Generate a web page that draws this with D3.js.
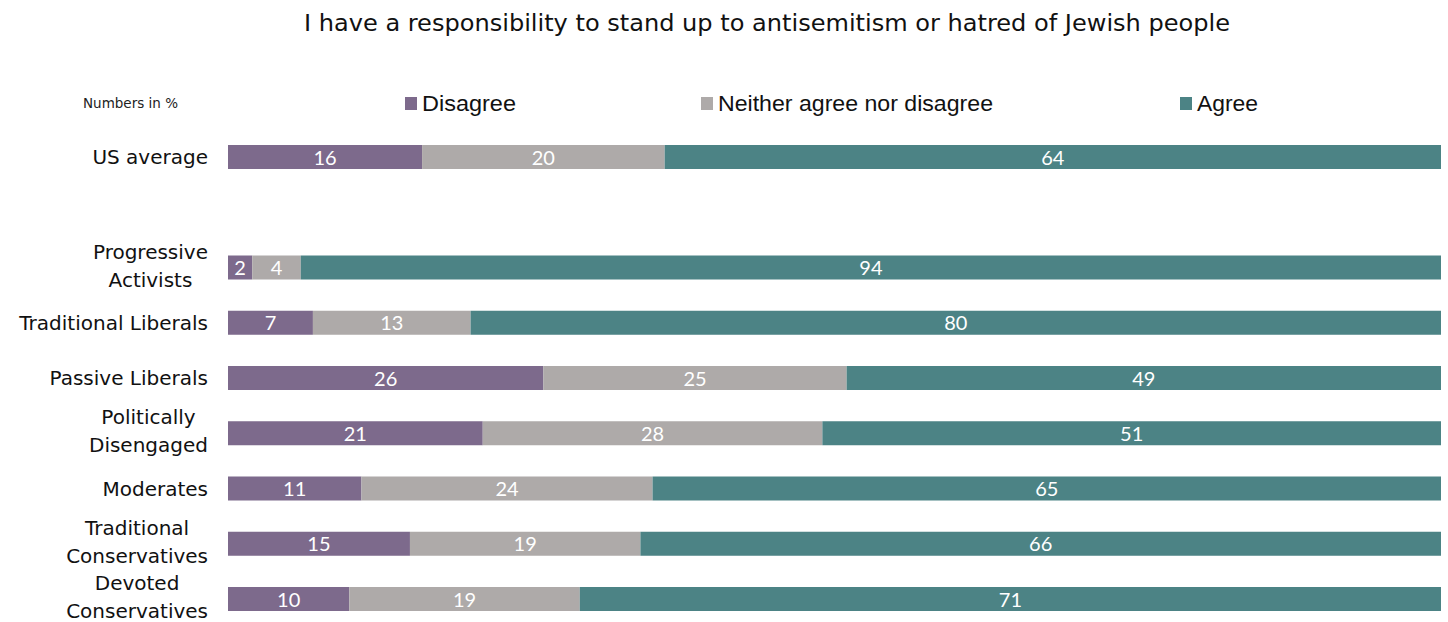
<!DOCTYPE html>
<html><head><meta charset="utf-8">
<script src="https://cdn.jsdelivr.net/npm/d3@7"></script>
<style>body{margin:0;background:#fff}svg{display:block}</style>
</head><body><svg id="c" width="1448" height="622"></svg>
<script>
const title = "I have a responsibility to stand up to antisemitism or hatred of Jewish people";
const categories = ["US average", "Progressive\nActivists", "Traditional Liberals", "Passive Liberals", "Politically\nDisengaged", "Moderates", "Traditional\nConservatives", "Devoted\nConservatives"];
const seriesNames = ["Disagree", "Neither agree nor disagree", "Agree"];
const disagree = [16, 2, 7, 26, 21, 11, 15, 10];
const neither = [20, 4, 13, 25, 28, 24, 19, 19];
const agree = [64, 94, 80, 49, 51, 65, 66, 71];
const colors = ["#7d6a8c", "#aeaaa9", "#4c8385"];

const svg = d3.select("#c");
const font = "'DejaVu Sans', sans-serif";
const numFont = "Lato, 'Noto Sans', sans-serif";
const legFont = "'Liberation Sans', Arial, sans-serif";

svg.append("text").attr("x", 767).attr("y", 31).attr("text-anchor", "middle")
  .attr("font-family", font).attr("font-size", 23).attr("fill", "#111")
  .attr("textLength", 926).attr("lengthAdjust", "spacingAndGlyphs").text(title);

const domain = [categories[0], "__gap", ...categories.slice(1)];
const y = d3.scalePoint().domain(domain).range([157, 599]);
const x = d3.scaleLinear().domain([0, 100]).range([228, 1441]);
const barH = 24;

const rows = categories.map((c, i) => {
  const vals = [disagree[i], neither[i], agree[i]];
  let acc = 0;
  return {cat: c, segs: vals.map((v, k) => { const s = {k, v, x0: acc, x1: acc + v}; acc += v; return s; })};
});

const g = svg.append("g");
const row = g.selectAll("g.row").data(rows).join("g").attr("class", "row");
row.selectAll("rect").data(d => d.segs.map(s => ({...s, cat: d.cat}))).join("rect")
  .attr("x", s => x(s.x0)).attr("width", s => x(s.x1) - x(s.x0))
  .attr("y", s => y(s.cat) - barH / 2).attr("height", barH)
  .attr("fill", s => colors[s.k]);
row.selectAll("text.val").data(d => d.segs.map(s => ({...s, cat: d.cat}))).join("text")
  .attr("class", "val")
  .attr("x", s => (x(s.x0) + x(s.x1)) / 2).attr("y", s => y(s.cat) + 7.5)
  .attr("text-anchor", "middle").attr("fill", "#fff")
  .attr("font-family", numFont).attr("font-size", 20).text(s => s.v);

// category labels
row.each(function(d) {
  const lines = d.cat.split("\n");
  const t = d3.select(this).append("text")
    .attr("font-family", font).attr("font-size", 20).attr("fill", "#111");
  const cy = y(d.cat);
  if (lines.length === 1) {
    t.attr("text-anchor", "end").attr("x", 208).attr("y", cy + 7).text(lines[0]);
  } else {
    t.attr("text-anchor", "middle");
    const spans = lines.map((l, i) => t.append("tspan").attr("y", cy + 7 + (i === 0 ? -16 : 12)).text(l));
    const maxW = d3.max(spans, s => s.node().getComputedTextLength());
    spans.forEach(s => s.attr("x", 208 - maxW / 2));
  }
});

// legend
svg.append("text").attr("x", 83).attr("y", 108).attr("font-family", font)
  .attr("font-size", 13.5).attr("fill", "#222").text("Numbers in %");
const legX = [405, 701, 1180];
const legW = [94, 275, 61];
const leg = svg.selectAll("g.leg").data(seriesNames).join("g").attr("class", "leg")
  .attr("transform", (d, i) => `translate(${legX[i]},103)`);
leg.append("rect").attr("x", 0).attr("y", -6).attr("width", 12).attr("height", 13)
  .attr("fill", (d, i) => colors[i]);
leg.append("text").attr("x", 17).attr("y", 8).attr("font-family", legFont)
  .attr("font-size", 22).attr("fill", "#111")
  .attr("textLength", (d, i) => legW[i]).attr("lengthAdjust", "spacingAndGlyphs").text(d => d);
</script></body></html>
